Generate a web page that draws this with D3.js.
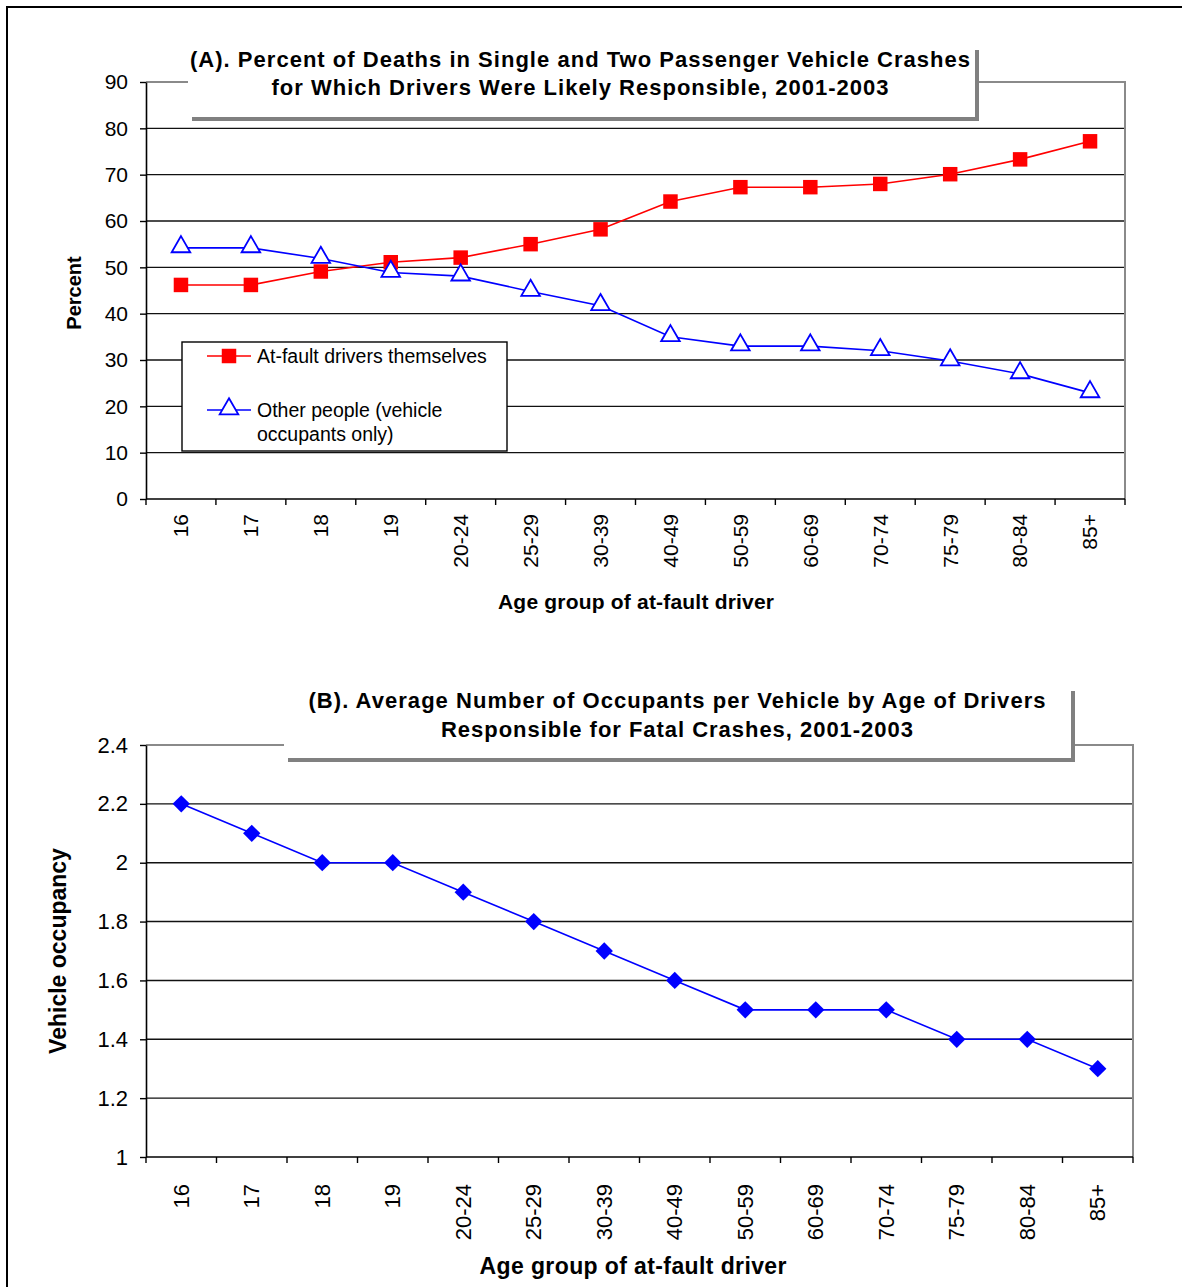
<!DOCTYPE html>
<html>
<head>
<meta charset="utf-8">
<script src="https://cdn.jsdelivr.net/npm/d3@7"></script>
<style>
  html, body { margin: 0; padding: 0; background: #fff; }
  svg { display: block; }
  text { font-family: Arial, "Liberation Sans", sans-serif; }
</style>
</head>
<body>
<svg id="chart" width="1182" height="1287"></svg>
<script>
// ---------- DATA ----------
const ageGroups = ["16","17","18","19","20-24","25-29","30-39","40-49","50-59","60-69","70-74","75-79","80-84","85+"];
const atFaultDrivers = [46.2, 46.2, 49.1, 51.1, 52.1, 55.0, 58.2, 64.2, 67.3, 67.3, 68.0, 70.1, 73.3, 77.2];
const otherPeople = [54.2, 54.2, 51.9, 48.9, 48.1, 44.8, 41.7, 35.0, 33.0, 33.0, 32.0, 29.8, 27.0, 22.9];
const occupancy = [2.2, 2.1, 2.0, 2.0, 1.9, 1.8, 1.7, 1.6, 1.5, 1.5, 1.5, 1.4, 1.4, 1.3];
const percentTicks = [0, 10, 20, 30, 40, 50, 60, 70, 80, 90];
const occupancyTicks = [1, 1.2, 1.4, 1.6, 1.8, 2.0, 2.2, 2.4];
const titleA = ["(A). Percent of Deaths in Single and Two Passenger Vehicle Crashes", "for Which Drivers Were Likely Responsible, 2001-2003"];
const titleB = ["(B). Average Number of Occupants per Vehicle by Age of Drivers", "Responsible for Fatal Crashes, 2001-2003"];
const seriesNames = ["At-fault drivers themselves", ["Other people (vehicle", "occupants only)"]];

const svg = d3.select("#chart");

// outer frame (top and left edges visible)
svg.append("rect").attr("x", 7).attr("y", 7).attr("width", 1200).attr("height", 1300)
  .attr("fill", "none").attr("stroke", "#000").attr("stroke-width", 2);

function panel(opts) {
  const g = svg.append("g");
  const x = d3.scaleBand().domain(ageGroups).range([opts.x0, opts.x1]);
  const y = d3.scaleLinear().domain(opts.yDomain).range([opts.yBottom, opts.yTop]);
  const cx = d => x(d) + x.bandwidth() / 2;

  // gridlines (excluding bottom and top)
  g.selectAll(".grid").data(opts.ticks.slice(1, -1)).join("line")
    .attr("x1", opts.x0).attr("x2", opts.x1)
    .attr("y1", d => y(d)).attr("y2", d => y(d))
    .attr("stroke", "#111").attr("stroke-width", 1.4);
  // top & right border (gray)
  g.append("path")
    .attr("d", `M${opts.x0},${y(opts.yDomain[1])}H${opts.x1}V${opts.yBottom}`)
    .attr("fill", "none").attr("stroke", "#8a8a8a").attr("stroke-width", 2);

  // y axis
  const ya = g.append("g").attr("transform", `translate(${opts.x0},0)`)
    .call(d3.axisLeft(y).tickValues(opts.ticks).tickSize(6).tickPadding(12)
      .tickFormat(opts.yFormat).tickSizeOuter(0));
  ya.select(".domain").attr("stroke", "#000").attr("stroke-width", 1.6);
  ya.selectAll(".tick line").attr("stroke", "#000").attr("stroke-width", 1.4);
  ya.selectAll(".tick text").attr("font-size", opts.yFont).attr("fill", "#000")
    .attr("font-family", "Arial, 'Liberation Sans', sans-serif");

  // x axis baseline
  g.append("line").attr("x1", opts.x0).attr("x2", opts.x1)
    .attr("y1", opts.yBottom).attr("y2", opts.yBottom)
    .attr("stroke", "#000").attr("stroke-width", 1.6);
  // tick marks between categories
  const bounds = ageGroups.map(d => x(d)).concat([opts.x1]);
  g.selectAll(".xt").data(bounds).join("line")
    .attr("x1", d => d).attr("x2", d => d)
    .attr("y1", opts.yBottom).attr("y2", opts.yBottom + 6)
    .attr("stroke", "#000").attr("stroke-width", 1.4);
  // x labels rotated
  g.selectAll(".xl").data(ageGroups).join("text")
    .attr("transform", d => `translate(${cx(d)},${opts.yBottom + opts.xLabelGap}) rotate(-90)`)
    .attr("text-anchor", "end").attr("dy", "0.35em")
    .attr("font-size", opts.xFont).attr("fill", "#000").text(d => d);

  // axis titles
  g.append("text").attr("x", opts.xTitleX).attr("y", opts.xTitleY)
    .attr("text-anchor", "middle").attr("font-weight", "bold")
    .attr("font-size", opts.xTitleFont).attr("textLength", opts.xTitleLen)
    .text("Age group of at-fault driver");
  g.append("text")
    .attr("transform", `translate(${opts.yTitleX},${opts.yTitleY}) rotate(-90)`)
    .attr("text-anchor", "middle").attr("dy", "0.35em").attr("font-weight", "bold")
    .attr("font-size", opts.yTitleFont).text(opts.yTitle);

  // title box with shadow
  const b = opts.box;
  g.append("rect").attr("x", b.x + 4).attr("y", b.y + 4).attr("width", b.w).attr("height", b.h)
    .attr("fill", "#808080");
  g.append("rect").attr("x", b.x).attr("y", b.y).attr("width", b.w).attr("height", b.h)
    .attr("fill", "#fff");
  opts.title.forEach((t, i) => {
    g.append("text").attr("x", opts.titleX).attr("y", opts.titleY[i])
      .attr("text-anchor", "middle").attr("font-weight", "bold")
      .attr("font-size", opts.titleFont).attr("textLength", opts.titleLen[i])
      .text(t);
  });
  return {g, x, y, cx};
}

// ---------- PANEL A ----------
const A = panel({
  x0: 146, x1: 1125, yTop: 82, yBottom: 499, yDomain: [0, 90], ticks: percentTicks,
  yFormat: d3.format("d"), yFont: 21, xFont: 21, xLabelGap: 15,
  xTitleX: 636, xTitleY: 609, xTitleFont: 21, xTitleLen: 276,
  yTitleX: 74, yTitleY: 293, yTitleFont: 20, yTitle: "Percent",
  box: {x: 188, y: 46, w: 787, h: 71},
  title: titleA, titleX: 580, titleY: [67, 95], titleFont: 22, titleLen: [780, 617]
});

const lineA = d3.line().x((d, i) => A.cx(ageGroups[i])).y(d => A.y(d));
A.g.append("path").datum(atFaultDrivers).attr("d", lineA)
  .attr("fill", "none").attr("stroke", "#ff0000").attr("stroke-width", 1.6);
A.g.append("path").datum(otherPeople).attr("d", lineA)
  .attr("fill", "none").attr("stroke", "#0000ff").attr("stroke-width", 1.6);

const sq = d3.symbol().type(d3.symbolSquare).size(210);
const tri = d3.symbol().type(d3.symbolTriangle).size(150);
A.g.selectAll(".mr").data(atFaultDrivers).join("path")
  .attr("d", sq).attr("transform", (d, i) => `translate(${A.cx(ageGroups[i])},${A.y(d)})`)
  .attr("fill", "#ff0000");
A.g.selectAll(".mb").data(otherPeople).join("path")
  .attr("d", tri).attr("transform", (d, i) => `translate(${A.cx(ageGroups[i])},${A.y(d) - 1})`)
  .attr("fill", "#fff").attr("stroke", "#0000ff").attr("stroke-width", 1.8);

// legend
const lg = A.g.append("g");
lg.append("rect").attr("x", 182).attr("y", 342).attr("width", 325).attr("height", 109)
  .attr("fill", "#fff").attr("stroke", "#000").attr("stroke-width", 1.4);
lg.append("line").attr("x1", 207).attr("x2", 251).attr("y1", 356).attr("y2", 356)
  .attr("stroke", "#ff0000").attr("stroke-width", 1.6);
lg.append("path").attr("d", sq).attr("transform", "translate(229,356)").attr("fill", "#ff0000");
lg.append("text").attr("x", 257).attr("y", 363).attr("font-size", 19.5).text(seriesNames[0]);
lg.append("line").attr("x1", 207).attr("x2", 251).attr("y1", 410).attr("y2", 410)
  .attr("stroke", "#0000ff").attr("stroke-width", 1.6);
lg.append("path").attr("d", tri).attr("transform", "translate(229,409)")
  .attr("fill", "#fff").attr("stroke", "#0000ff").attr("stroke-width", 1.8);
seriesNames[1].forEach((t, i) => {
  lg.append("text").attr("x", 257).attr("y", 417 + i * 24).attr("font-size", 19.5).text(t);
});

// ---------- PANEL B ----------
const B = panel({
  x0: 146, x1: 1133, yTop: 745, yBottom: 1157, yDomain: [1, 2.4], ticks: occupancyTicks,
  yFormat: d => d3.format("")(+d.toFixed(1)), yFont: 22, xFont: 22, xLabelGap: 27,
  xTitleX: 633, xTitleY: 1274, xTitleFont: 23, xTitleLen: 307,
  yTitleX: 58, yTitleY: 951, yTitleFont: 23, yTitle: "Vehicle occupancy",
  box: {x: 284, y: 687, w: 787, h: 71},
  title: titleB, titleX: 677, titleY: [708, 737], titleFont: 22, titleLen: [737, 472]
});

const lineB = d3.line().x((d, i) => B.cx(ageGroups[i])).y(d => B.y(d));
B.g.append("path").datum(occupancy).attr("d", lineB)
  .attr("fill", "none").attr("stroke", "#0000ff").attr("stroke-width", 1.6);
const dia = d3.symbol().type(d3.symbolSquare).size(150);
B.g.selectAll(".md").data(occupancy).join("path")
  .attr("d", dia).attr("transform", (d, i) => `translate(${B.cx(ageGroups[i])},${B.y(d)}) rotate(45)`)
  .attr("fill", "#0000ff");
</script>
</body>
</html>
